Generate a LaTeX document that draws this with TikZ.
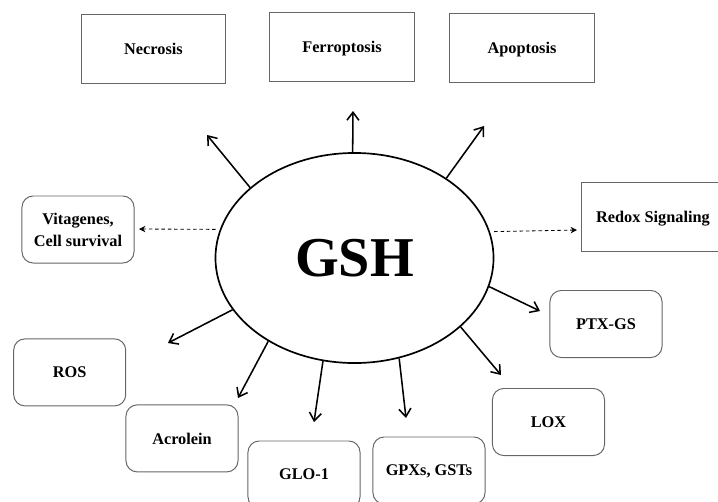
\documentclass[tikz,border=0pt]{standalone}
\usepackage{fontspec}
\setmainfont{Liberation Serif}
\usetikzlibrary{arrows.meta}
\usetikzlibrary{shapes.geometric}
\usetikzlibrary{positioning}
\tikzstyle{cellbox} = [rectangle, minimum width=3.6cm, minimum height=1.725cm, text centered, text depth=0pt, draw=black!60, line width=0.7pt, font=\bfseries\fontsize{11.6}{15.5}\selectfont]
\tikzstyle{agentbox} = [rectangle, rounded corners=0.28cm, minimum width=2.8cm, minimum height=1.675cm, align=center, text depth=0pt, draw=black!60, line width=0.7pt, font=\bfseries\fontsize{11.6}{15.5}\selectfont]
\tikzstyle{hubnode} = [ellipse, minimum width=6.95cm, minimum height=5.25cm, inner sep=0cm, draw=black, line width=1.2pt, font=\bfseries\fontsize{40}{44}\selectfont]
\tikzstyle{arrow} = [line width=1.1pt, -{Straight Barb[length=2mm,width=3mm]}]
\tikzstyle{dasharrow} = [line width=0.6pt, dash pattern=on 2.5pt off 2pt, -{Stealth[length=1.6mm,width=1.6mm]}]
\begin{document}
\begin{tikzpicture}[x=0.025cm, y=-0.025cm]
                    \useasboundingbox (0,0) rectangle (718,501);
                    \node (GSH) [hubnode] at (354.5,258) {GSH};
                    \node (Nec) [cellbox] at (153.5,48.5) {Necrosis};
                    \node (Fer) [cellbox] at (342,46.5) {Ferroptosis};
                    \node (Apo) [cellbox] at (522,48) {Apoptosis};
                    \node (Redox) [cellbox, minimum width=3.55cm] at (653,217) {Redox Signaling};
                    \node (Vit) [agentbox] at (78,229.5) {Vitagenes,\\Cell survival};
                    \node (ROS) [agentbox] at (69.7,372.4) {ROS};
                    \node (Acr) [agentbox] at (182,438.4) {Acrolein};
                    \node (GLO) [agentbox] at (304,474.5) {GLO-1};
                    \node (GPX) [agentbox] at (429,470.5) {GPXs, GSTs};
                    \node (LOX) [agentbox] at (548.5,422) {LOX};
                    \node (PTX) [agentbox] at (606,324) {PTX-GS};
                    % free arrow ends
                    \coordinate (NecE) at (207,135);
                    \coordinate (FerE) at (353,111);
                    \coordinate (ApoE) at (484,126);
                    \coordinate (VitE) at (139,229);
                    \coordinate (RedE) at (577,230);
                    \coordinate (ROSE) at (168,343);
                    \coordinate (AcrE) at (238,398);
                    \coordinate (GLOE) at (314,422);
                    \coordinate (GPXE) at (406,418);
                    \coordinate (LOXE) at (501,375);
                    \coordinate (PTXE) at (540,311);
                    \draw [arrow] (GSH.146.3) -- (NecE);
                    \draw [arrow] (GSH.91) -- (FerE);
                    \draw [arrow] (GSH.41.9) -- (ApoE);
                    \draw [dasharrow, shorten <=3pt] (GSH.168) -- (VitE);
                    \draw [dasharrow, shorten <=3pt] (GSH.11.8) -- (RedE);
                    \draw [arrow] (GSH.203.7) -- (ROSE);
                    \draw [arrow] (GSH.224.2) -- (AcrE);
                    \draw [arrow] (GSH.253.6) -- (GLOE);
                    \draw [arrow] (GSH.294.1) -- (GPXE);
                    \draw [arrow] (GSH.327.8) -- (LOXE);
                    \draw [arrow] (GSH.348.7) -- (PTXE);
                \end{tikzpicture}
\end{document}
